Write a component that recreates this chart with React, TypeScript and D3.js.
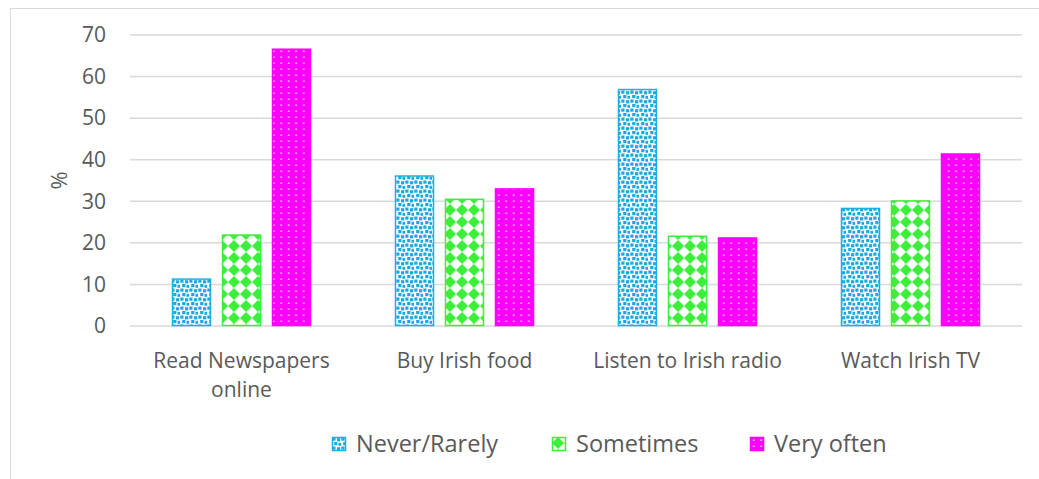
import React from "react";
import * as d3 from "d3";

const categories = ["Read Newspapers online", "Buy Irish food", "Listen to Irish radio", "Watch Irish TV"];
const categoryLines = [["Read Newspapers", "online"], ["Buy Irish food"], ["Listen to Irish radio"], ["Watch Irish TV"]];
const seriesNames = ["Never/Rarely", "Sometimes", "Very often"];
const neverRarely = [11.4, 36.2, 57.0, 28.4];
const sometimes = [22.0, 30.6, 21.7, 30.2];
const veryOften = [66.7, 33.1, 21.3, 41.5];
const yTicks = [0, 10, 20, 30, 40, 50, 60, 70];

const seriesValues = [neverRarely, sometimes, veryOften];
const strokes = ["#19B0EA", "#3BEF3B", "#FF00FF"];
const fills = ["url(#patBlue)", "url(#patGreen)", "url(#patMag)"];

const W = 1039, H = 479;
const plotLeft = 130, plotRight = 1022, plotTop = 35, plotBottom = 326;
const textColor = "#595959";
const font = "'Open Sans', 'Noto Sans', sans-serif";

export default function App() {
  const x0 = d3.scaleBand<string>().domain(categories).range([plotLeft, plotRight]).padding(0);
  const y = d3.scaleLinear().domain([0, 70]).range([plotBottom, plotTop]);
  const x1 = d3.scaleBand<string>().domain(seriesNames).range([0, 150]).paddingInner(0.22).paddingOuter(0.11);

  const legendX = [332, 552, 750];

  return (
    <svg width={W} height={H} style={{ position: "absolute", left: 0, top: 0, background: "#fff" }} fontFamily={font}>
      <defs>
        <pattern id="patBlue" width="9" height="9" patternUnits="userSpaceOnUse">
          <rect width="9" height="9" fill="#fff" />
          <rect x="0.3" y="0.5" width="3.2" height="3.2" fill="#1AA8E4" />
          <rect x="5" y="1.2" width="3.2" height="3.2" fill="#1AA8E4" />
          <rect x="2.2" y="5" width="3.2" height="3.2" fill="#1AA8E4" />
          <rect x="6.5" y="5.8" width="3" height="3" fill="#1AA8E4" />
        </pattern>
        <pattern id="patGreen" width="12" height="12" patternUnits="userSpaceOnUse">
          <rect width="12" height="12" fill="#fff" />
          <path d="M6,0 L12,6 L6,12 L0,6 Z" fill="#3BEF3B" />
          <circle cx="6" cy="6" r="3.6" fill="#3BEF3B" />
        </pattern>
        <pattern id="patMag" width="7.5" height="6" patternUnits="userSpaceOnUse">
          <rect width="7.5" height="6" fill="#FF00FF" />
          <rect x="3" y="2.5" width="1.4" height="1.4" fill="#fff" />
        </pattern>
      </defs>

      <rect x={10.5} y={8.5} width={1040} height={480} fill="none" stroke="#D9D9D9" strokeWidth={1} />

      {yTicks.map((t) => (
        <g key={t}>
          <line x1={plotLeft} x2={plotRight} y1={y(t)} y2={y(t)} stroke="#D9D9D9" strokeWidth={1.5} />
          <text x={106} y={y(t)} dy="0.35em" textAnchor="end" fontSize={21} fill={textColor}>{t}</text>
        </g>
      ))}

      <text transform={`translate(67,${y(35)}) rotate(-90)`} textAnchor="middle" fontSize={22} fill={textColor}>%</text>

      {categories.map((c, ci) => {
        const start = (x0(c) as number) + x0.bandwidth() / 2 - 75;
        return (
          <g key={c}>
            {seriesNames.map((s, si) => {
              const v = seriesValues[si][ci];
              const bx = start + (x1(s) as number);
              return (
                <rect key={s} x={bx + 0.5} y={y(v) + 0.5} width={x1.bandwidth() - 1} height={y(0) - y(v) - 1}
                  fill={fills[si]} stroke={strokes[si]} strokeWidth={1.5} />
              );
            })}
            {categoryLines[ci].map((line, li) => (
              <text key={li} x={(x0(c) as number) + x0.bandwidth() / 2} y={361 + li * 29} dy="0.35em" textAnchor="middle" fontSize={21} fill={textColor}>{line}</text>
            ))}
          </g>
        );
      })}

      {seriesNames.map((s, si) => (
        <g key={s} transform={`translate(${legendX[si]},437)`}>
          <rect x={0.5} y={0.5} width={13} height={13} fill={fills[si]} stroke={strokes[si]} strokeWidth={1.5} />
          <text x={24} y={7} dy="0.35em" fontSize={23.5} fill={textColor}>{s}</text>
        </g>
      ))}
    </svg>
  );
}
